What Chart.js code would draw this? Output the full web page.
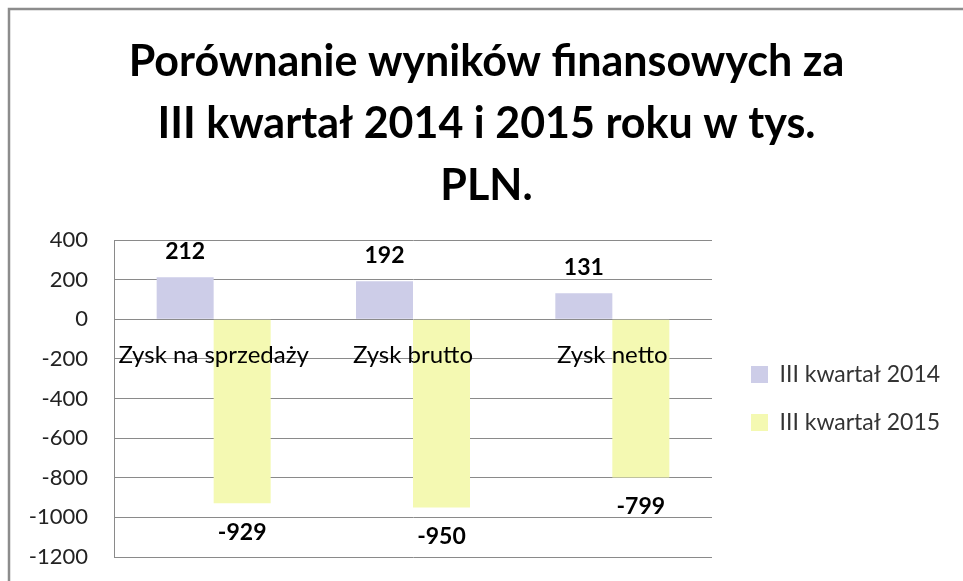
<!DOCTYPE html>
<html>
<head>
<meta charset="utf-8">
<script src="https://cdn.jsdelivr.net/npm/chart.js@4.4.1/dist/chart.umd.min.js"></script>
<style>
  html, body { margin: 0; padding: 0; background: #fff; }
  #wrap { width: 963px; height: 581px; }
</style>
</head>
<body>
<div id="wrap"><canvas id="chart" width="963" height="581"></canvas></div>
<script>
const categories = ['Zysk na sprzedaży', 'Zysk brutto', 'Zysk netto'];
const series2014 = [212, 192, 131];
const series2015 = [-929, -950, -799];
const seriesNames = ['III kwartał 2014', 'III kwartał 2015'];
const titleLines = ['Porównanie wyników finansowych za', 'III kwartał 2014 i 2015 roku w tys.', 'PLN.'];
const yTicks = [400, 200, 0, -200, -400, -600, -800, -1000, -1200];

const fontName = 'Lato, "Open Sans", sans-serif';
const legendBoxWidth = 251;  // space right of the plot
const legendGap = 14;        // empty strip between plot and legend

// outer frame, cut off at right and bottom like the original picture
const framePlugin = {
  id: 'frame',
  beforeDraw(chart) {
    const ctx = chart.ctx;
    ctx.save();
    ctx.fillStyle = '#fff';
    ctx.fillRect(0, 0, chart.width, chart.height);
    ctx.strokeStyle = '#8c8c8c';
    ctx.lineWidth = 2.5;
    ctx.beginPath();
    ctx.moveTo(9, chart.height + 5);
    ctx.lineTo(9, 9);
    ctx.lineTo(chart.width + 5, 9);
    ctx.stroke();
    ctx.restore();
  }
};

// legend keeps a fixed width and sits a bit away from the plot
const legendSpacePlugin = {
  id: 'legendSpace',
  afterInit(chart) {
    const lg = chart.legend;
    const fit = lg.fit;
    lg.fit = function () {
      fit.call(this);
      this.width = legendBoxWidth;
    };
  },
  afterLayout(chart) {
    chart.legend.left += legendGap;
  }
};

// value labels and category names drawn on top of the bars
const labelPlugin = {
  id: 'labels',
  afterDatasetsDraw(chart) {
    const ctx = chart.ctx;
    const x = chart.scales.x;
    const y = chart.scales.y;
    ctx.save();
    ctx.textAlign = 'center';
    ctx.textBaseline = 'middle';
    ctx.fillStyle = '#000';
    ctx.font = '24px ' + fontName;
    chart.data.labels.forEach((lab, i) => {
      ctx.fillText(lab, x.getPixelForValue(i), y.getPixelForValue(0) + 36);
    });
    ctx.font = 'bold 23px ' + fontName;
    chart.data.datasets.forEach((ds, di) => {
      const meta = chart.getDatasetMeta(di);
      meta.data.forEach((bar, i) => {
        const v = ds.data[i];
        const ty = v >= 0 ? bar.y - 26 : bar.y + 29;
        ctx.fillText(String(v), bar.x, ty);
      });
    });
    ctx.restore();
  }
};

const ctx = document.getElementById('chart').getContext('2d');
const chart = new Chart(ctx, {
  type: 'bar',
  data: {
    labels: categories,
    datasets: [
      {
        label: seriesNames[0],
        data: series2014,
        backgroundColor: 'rgb(205,205,232)',
        categoryPercentage: 0.572,
        barPercentage: 1
      },
      {
        label: seriesNames[1],
        data: series2015,
        backgroundColor: 'rgb(244,249,178)',
        categoryPercentage: 0.572,
        barPercentage: 1
      }
    ]
  },
  plugins: [framePlugin, legendSpacePlugin, labelPlugin],
  options: {
    responsive: false,
    animation: false,
    layout: { padding: { left: 10, right: 0, top: 0, bottom: 24 } },
    plugins: {
      title: {
        display: true,
        text: titleLines,
        color: '#000',
        font: { family: fontName, size: 43, weight: 'bold', lineHeight: 1.442 },
        padding: { top: 31, bottom: 23 }
      },
      legend: {
        position: 'right',
        fullSize: false,
        labels: {
          color: '#333',
          font: { family: fontName, size: 23 },
          boxWidth: 17,
          boxHeight: 17,
          padding: 25
        }
      },
      tooltip: { enabled: false }
    },
    scales: {
      x: {
        display: false
      },
      y: {
        min: -1200,
        max: 400,
        afterBuildTicks(s) { s.ticks = yTicks.map(v => ({ value: v })); },
        afterFit(s) { s.width = 104; },
        grid: {
          color: '#8a8a8a',
          lineWidth: 1,
          drawTicks: true,
          tickLength: 26,
          tickColor: 'rgba(0,0,0,0)'
        },
        border: { color: '#8a8a8a', width: 1 },
        ticks: {
          color: '#222',
          padding: 0,
          font: { family: fontName, size: 22 },
          callback: v => String(v)
        }
      }
    }
  }
});
</script>
</body>
</html>
